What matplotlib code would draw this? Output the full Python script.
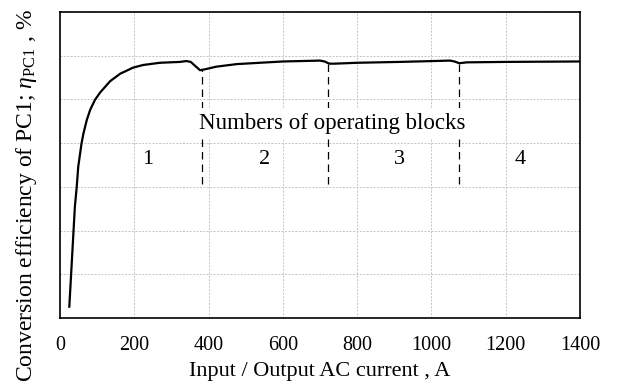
import matplotlib
matplotlib.use('Agg')
import matplotlib.pyplot as plt
import numpy as np

# Values
current = [25, 30, 36, 40, 45, 49, 58, 63, 72, 81, 94, 108, 135, 162, 197, 224, 269,
           323, 340, 352, 365, 377, 390, 420, 476, 600, 700, 712, 725, 740, 799, 915,
           1050, 1062, 1075, 1095, 1200, 1400]
efficiency = [32.6, 40.2, 49.4, 55.5, 60.0, 64.6, 70.0, 72.2, 75.3, 77.6, 79.9, 81.6,
              84.2, 85.9, 87.3, 87.9, 88.4, 88.6, 88.8, 88.6, 87.6, 86.7, 86.9, 87.5,
              88.1, 88.7, 88.9, 88.7, 88.2, 88.2, 88.4, 88.6, 88.9, 88.7, 88.3, 88.5,
              88.6, 88.7]
boundaries = [381, 722, 1075]
block_labels = ['1', '2', '3', '4']
block_label_x = [237, 552, 915, 1238]
x_ticks = [0, 200, 400, 600, 800, 1000, 1200, 1400]

plt.rcParams['font.family'] = ['Liberation Serif', 'DejaVu Serif']
plt.rcParams['mathtext.fontset'] = 'custom'
plt.rcParams['mathtext.rm'] = 'Liberation Serif'
plt.rcParams['mathtext.it'] = 'Liberation Serif:italic'

fig = plt.figure(figsize=(6.22, 3.9), dpi=100)
ax = fig.add_axes([0.0965, 0.1846, 0.836, 0.7844])

ax.plot(current, efficiency, color='black', lw=1.6, zorder=3,
        solid_joinstyle='round')

# dashed separators between block counts
for b in boundaries:
    top = np.interp(b, current, efficiency)
    ax.plot([b, b], [60.7, top], color='black', lw=0.9, ls=(0, (6, 4)), zorder=2)

ax.text(733, 74.6, 'Numbers of operating blocks', fontsize=16.5, ha='center', va='center',
        bbox=dict(facecolor='white', edgecolor='none', pad=3), zorder=2.5)
for lx, lab in zip(block_label_x, block_labels):
    ax.text(lx, 66.3, lab, fontsize=16, ha='center', va='center')

ax.set_xlim(0, 1400)
ax.set_ylim(30, 100)
ax.set_xticks(x_ticks)
ax.set_yticks(np.arange(30, 101, 10))
ax.set_yticklabels([])
ax.tick_params(length=0, labelsize=14.5, pad=13)
ax.grid(True, color='#c4c4c4', ls=(0, (2, 1.5)), lw=0.7, zorder=0)
ax.set_axisbelow(True)
for s in ax.spines.values():
    s.set_linewidth(1.2)

ax.set_xlabel('Input / Output AC current , A', fontsize=16, labelpad=5)
fig.text(27 / 622, 1 - 195 / 390, r'Conversion efficiency of PC1; $\eta_{\rm PC1}$ , %',
         fontsize=17, rotation=90, ha='center', va='center')

fig.savefig('out.png', dpi=100)
